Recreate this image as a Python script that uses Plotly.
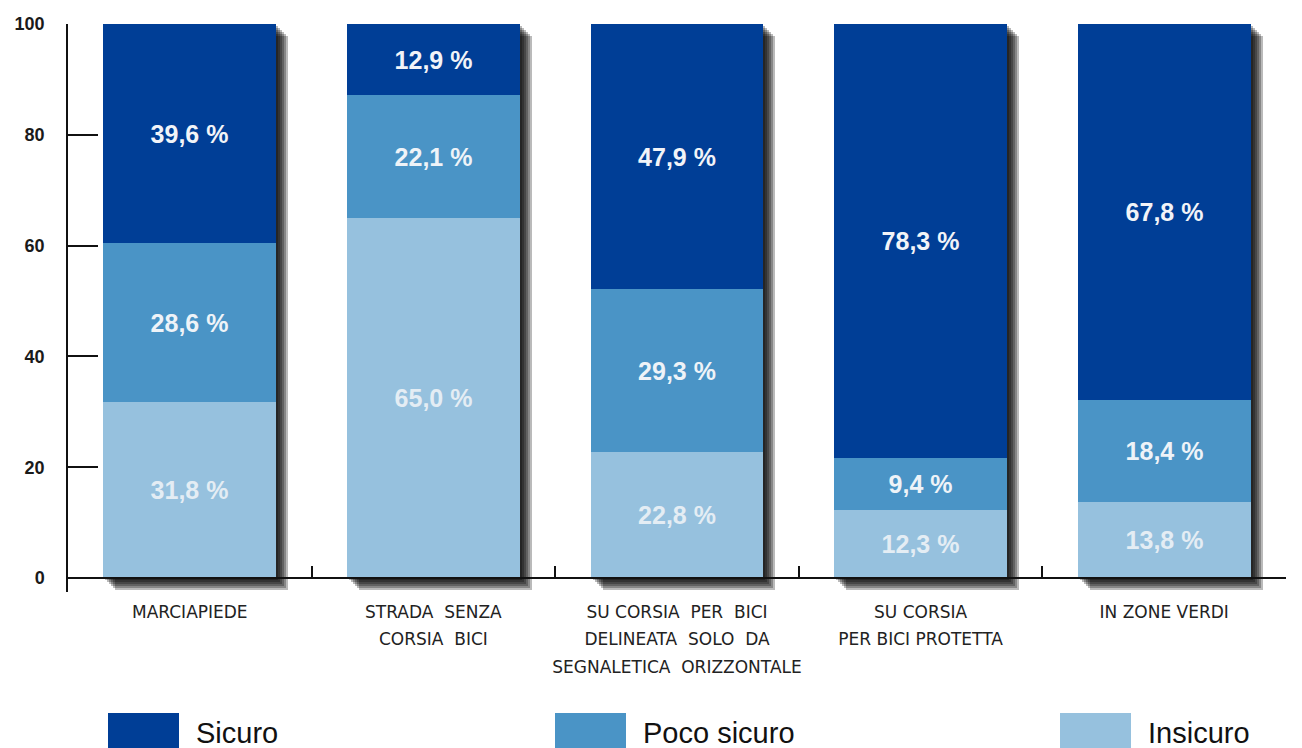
import plotly.graph_objects as go

# ---------------- data ----------------
categories = [
    "MARCIAPIEDE",
    "STRADA  SENZA<br>CORSIA  BICI",
    "SU CORSIA  PER  BICI<br>DELINEATA  SOLO  DA<br>SEGNALETICA  ORIZZONTALE",
    "SU CORSIA<br>PER BICI PROTETTA",
    "IN ZONE VERDI",
]
sicuro = [39.6, 12.9, 47.9, 78.3, 67.8]
poco_sicuro = [28.6, 22.1, 29.3, 9.4, 18.4]
insicuro = [31.8, 65.0, 22.8, 12.3, 13.8]
series_names = ["Sicuro", "Poco sicuro", "Insicuro"]
y_tick_values = [0, 20, 40, 60, 80, 100]

# ---------------- style ----------------
colors = {"Sicuro": "#003e96", "Poco sicuro": "#4a94c6", "Insicuro": "#96c1de"}
text_colors = {"Sicuro": "#f2f4f8", "Poco sicuro": "#eef3f8", "Insicuro": "#e4edf4"}
FONT = "Liberation Sans, Arial, sans-serif"

W, H = 1302, 748
ML, MR, MT, MB = 68, 16, 24, 156
plot_w = W - ML - MR
plot_h = H - MT - MB
y_min, y_max = -2.5, 100
px_per_cat = plot_w / len(categories)
px_per_unit = plot_h / (y_max - y_min)
bar_w = 0.71


def fmt(v):
    return f"{v:.1f}".replace(".", ",") + " %"


def small_lines(label, size):
    return "<br>".join(f"<span style='font-size:{size}px'>{ln}</span>" for ln in label.split("<br>"))


totals = [a + b + c for a, b, c in zip(sicuro, poco_sicuro, insicuro)]
base_poco = list(insicuro)
base_sicuro = [a + b for a, b in zip(insicuro, poco_sicuro)]

fig = go.Figure()

# soft drop shadows (several layers)
for d in (12, 10, 8, 6, 4, 2):
    fig.add_trace(go.Bar(
        x=categories, y=totals, base=[-d / px_per_unit] * len(categories),
        width=bar_w, offset=-bar_w / 2 + d / px_per_cat,
        marker=dict(color="rgba(0,0,0,0.27)", line=dict(width=0)),
        showlegend=False, hoverinfo="skip",
    ))

stack = [
    ("Insicuro", insicuro, None),
    ("Poco sicuro", poco_sicuro, base_poco),
    ("Sicuro", sicuro, base_sicuro),
]
for name, vals, base in stack:
    fig.add_trace(go.Bar(
        name=name, x=categories, y=vals, base=base,
        width=bar_w, offset=-bar_w / 2,
        marker=dict(color=colors[name], line=dict(width=0)),
        text=[fmt(v) for v in vals], textposition="inside",
        insidetextanchor="middle", textangle=0,
        textfont=dict(family=FONT, size=25, color=text_colors[name], weight="bold"),
        constraintext="none",
        showlegend=False,
    ))

fig.update_layout(
    width=W, height=H,
    margin=dict(l=ML, r=MR, t=MT, b=MB, pad=0, autoexpand=False),
    paper_bgcolor="white", plot_bgcolor="white",
    barmode="overlay", bargap=0,
    font=dict(family=FONT, color="#1a1a1a"),
    showlegend=False,
    xaxis=dict(
        type="category", anchor="free", position=(0 - y_min) / (y_max - y_min),
        automargin=False, tickangle=0,
        tickmode="array", tickvals=categories,
        ticktext=[small_lines(c, 17) for c in categories],
        showline=True, linecolor="#111", linewidth=1.5,
        ticks="inside", tickson="boundaries", ticklen=11, tickwidth=1.5, tickcolor="#111",
        tickfont=dict(family="DejaVu Sans, sans-serif", size=21, color="#222"),
        ticklabelstandoff=14,
        showgrid=False, zeroline=False,
    ),
    yaxis=dict(
        range=[y_min, y_max], tickvals=y_tick_values, automargin=False,
        showline=True, linecolor="#111", linewidth=1.5,
        ticks="inside", ticklen=30, tickwidth=1.5, tickcolor="#111",
        tickfont=dict(family=FONT, size=18, color="#1a1a1a", weight="bold"),
        ticklabelstandoff=18,
        showgrid=False, zeroline=False,
    ),
)

# custom legend (large swatches at the bottom)
legend_swatch_px = {"Sicuro": 108, "Poco sicuro": 555, "Insicuro": 1060}


def xp(px):
    return (px - ML) / plot_w


def yp(py):
    return (MT + plot_h - py) / plot_h


for name in series_names:
    x0 = legend_swatch_px[name]
    fig.add_shape(type="rect", xref="paper", yref="paper",
                  x0=xp(x0), x1=xp(x0 + 71), y0=yp(713), y1=yp(770),
                  fillcolor=colors[name], line=dict(width=0))
    fig.add_annotation(xref="paper", yref="paper", x=xp(x0 + 86), y=yp(733),
                       xanchor="left", yanchor="middle", showarrow=False,
                       text=name, font=dict(family=FONT, size=29, color="#111"))

fig.write_html(
    "out.html",
    config={"displayModeBar": False},
    post_script="document.body.style.margin='0';document.body.style.overflow='hidden';",
)
